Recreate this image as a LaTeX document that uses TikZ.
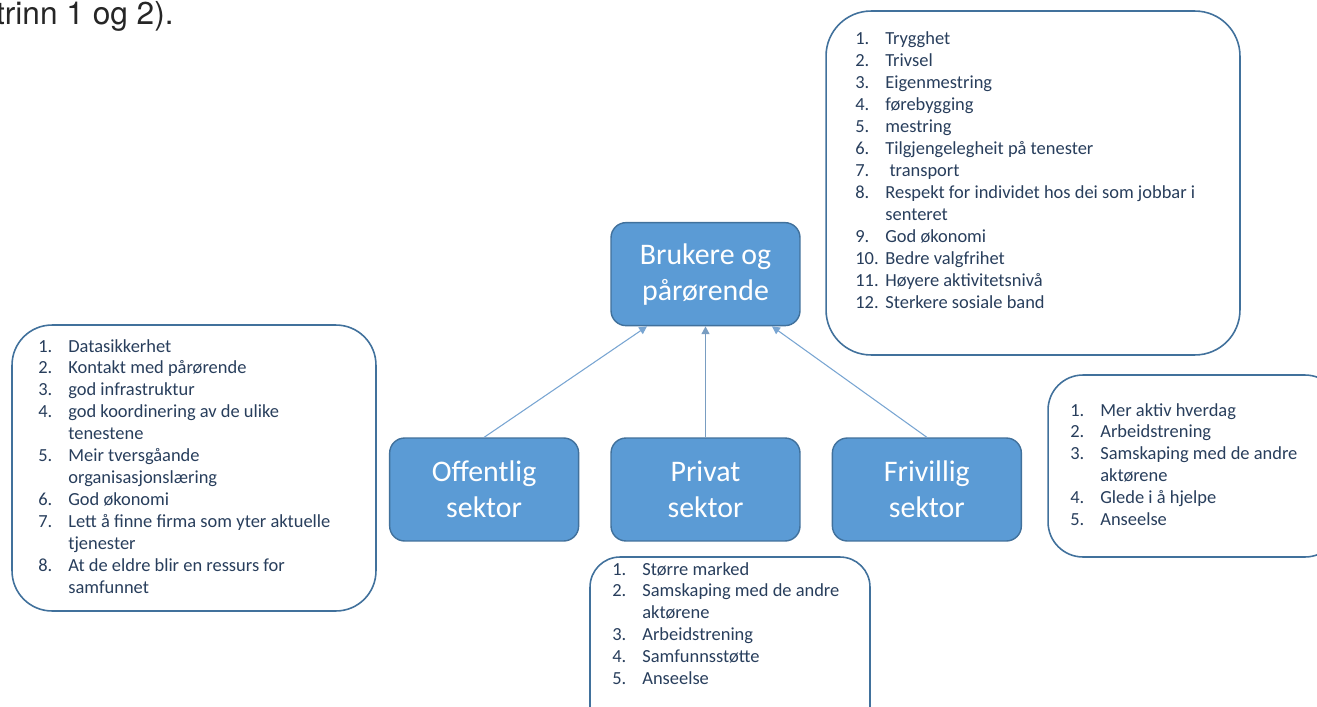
\documentclass[tikz,border=0pt]{standalone}
\usepackage{fontspec}
\setmainfont{Carlito}
\newfontfamily\helvfont{TeX Gyre Heros}
\usepackage{xcolor}
\definecolor{boks_blaa}{RGB}{91, 155, 213}
\definecolor{boks_kant}{RGB}{65, 113, 156}
\definecolor{liste_tekst}{RGB}{40, 62, 92}
\definecolor{pil_blaa}{RGB}{120, 165, 210}
\usepackage{tikz}
\usetikzlibrary{arrows.meta, positioning}
\tikzset{
  sektor/.style={rectangle, rounded corners=0.3cm, fill=boks_blaa, draw=boks_kant,
    line width=0.8pt, text=white, align=center, minimum width=3.78cm,
    minimum height=2.06cm, font=\fontsize{17}{20.5}\selectfont},
  listeboks/.style={rectangle, draw=boks_kant, fill=white, line width=0.9pt},
  listetekst/.style={inner sep=0pt, anchor=base west, text=liste_tekst,
    font=\fontsize{10.5}{12.5}\selectfont},
  pil/.style={-{Triangle[length=4.5pt, width=4.5pt]}, pil_blaa, line width=0.6pt}
}
\newcommand{\liste}[1]{\begin{tabular}[t]{@{}p{0.6cm}@{}l@{}}#1\end{tabular}}

\begin{document}
\begin{tikzpicture}[x=0.02cm, y=-0.02cm]
        \useasboundingbox[fill=white] (0,0) rectangle (1317,706);
        \clip (0,0) rectangle (1317,706);
        % Tekst fra forrige side
        \node[anchor=base east, inner sep=0pt, text=black!85,
          font=\helvfont\fontsize{18}{22}\selectfont] (topptekst) at (174,25) {trinn 1 og 2).};
        % Sektorane
        \node[sektor] (privat) at (705.5,489.5) {Privat\\sektor};
        \node[sektor, left=0.62cm of privat] (offentleg) {Offentlig\\sektor};
        \node[sektor, right=0.62cm of privat] (frivillig) {Frivillig\\sektor};
        \node[sektor, above=2.22cm of privat] (bruk) {Brukere og\\pårørende};
        % Pilene
        \draw[pil] (offentleg.north) -- ([xshift=-1.17cm]bruk.south);
        \draw[pil, line width=1pt, color=pil_blaa!80!gray] (privat.north) -- (bruk.south);
        \draw[pil] (frivillig.north) -- ([xshift=1.33cm]bruk.south);
        % Boksane med lister
        \node[listeboks, rounded corners=0.9cm, minimum width=8.28cm,
          minimum height=6.88cm] (bruk_liste) at (1033,183) {};
        \node[listetekst] (bruk_tekst) at (855,45) {\liste{
          1. & Trygghet\\ 2. & Trivsel\\ 3. & Eigenmestring\\ 4. & førebygging\\
          5. & mestring\\ 6. & Tilgjengelegheit på tenester\\ 7. & \ transport\\
          8. & Respekt for individet hos dei som jobbar i\\ & senteret\\
          9. & God økonomi\\ 10. & Bedre valgfrihet\\ 11. & Høyere aktivitetsnivå\\
          12. & Sterkere sosiale band}};
        \node[listeboks, rounded corners=0.8cm, minimum width=7.28cm,
          minimum height=5.72cm] (off_liste) at (194,468) {};
        \node[listetekst] (off_tekst) at (38,352) {\liste{
          1. & Datasikkerhet\\ 2. & Kontakt med pårørende\\ 3. & god infrastruktur\\
          4. & god koordinering av de ulike\\ & tenestene\\
          5. & Meir tversgåande\\ & organisasjonslæring\\ 6. & God økonomi\\
          7. & Lett å finne firma som yter aktuelle\\ & tjenester\\
          8. & At de eldre blir en ressurs for\\ & samfunnet}};
        \node[listeboks, rounded corners=0.6cm, minimum width=5.6cm,
          minimum height=3.6cm] (priv_liste) at (730,647) {};
        \node[listetekst] (priv_tekst) at (612,575) {\liste{
          1. & Større marked\\ 2. & Samskaping med de andre\\ & aktørene\\
          3. & Arbeidstrening\\ 4. & Samfunnsstøtte\\ 5. & Anseelse}};
        \node[listeboks, rounded corners=0.7cm, minimum width=5.84cm,
          minimum height=3.64cm] (friv_liste) at (1194,466) {};
        \node[listetekst] (friv_tekst) at (1070,416) {\liste{
          1. & Mer aktiv hverdag\\ 2. & Arbeidstrening\\ 3. & Samskaping med de andre\\
          & aktørene\\ 4. & Glede i å hjelpe\\ 5. & Anseelse}};
      \end{tikzpicture}
\end{document}
